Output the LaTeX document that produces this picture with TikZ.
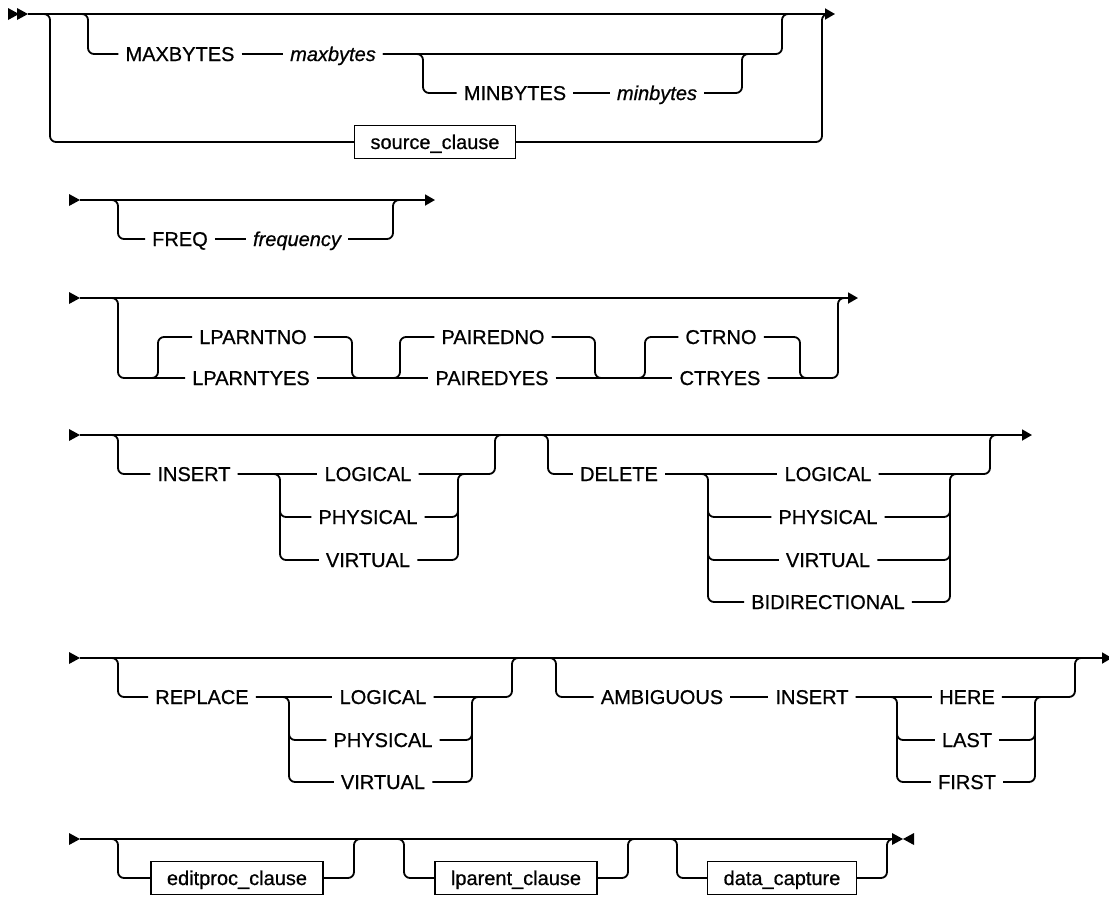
\documentclass[tikz,border=0pt]{standalone}
\usepackage{fontspec}
\setmainfont{Liberation Sans}[FakeBold=0.7, ItalicFeatures={FakeBold=0.7}]
\usetikzlibrary{arrows.meta}

\tikzset{
  rail/.style={line width=1.8pt, rounded corners=6pt},
  railend/.style={line width=1.8pt, -{Triangle[length=10pt,width=11pt]}},
  kw/.style={inner xsep=7pt, inner ysep=0pt, text height=14pt, text depth=0pt,
    font=\fontsize{20}{24}\selectfont},
  var/.style={kw, font=\fontsize{20}{24}\selectfont\itshape},
  clause/.style={kw, draw, line width=1.4pt, inner xsep=16pt, minimum height=33pt},
}
\newcommand{\railtip}[1]{\fill (#1) -- ++(-11,-6) -- ++(0,12) -- cycle;}

\begin{document}
\begin{tikzpicture}[x=1pt,y=-1pt]
\useasboundingbox (0,0) rectangle (1109,897);

% maxbytes / source_clause
\coordinate (a0) at (28,14);
\coordinate (a0b) at (19,14);
\coordinate (a1) at (835,14);
\railtip{a0} \railtip{a0b}
\draw[railend] (a0) -- (a1);

\node[kw]  (maxb) at (180,54) {MAXBYTES};
\node[var] (maxv) at (333,54) {maxbytes};
\node[kw]  (minb) at (515,93) {MINBYTES};
\node[var] (minv) at (657,93) {minbytes};
\node[clause] (src) at (435,142) {source\_clause};

\draw[rail] (a0) -- (50,14) -- (50,142) -- (src.west);
\draw[rail] (src.east) -- (822,142) -- (822,14) -- (830,14);
\draw[rail] (a0) -- (88,14) -- (88,54) -- (maxb.west);
\draw[rail] (maxb.east) -- (maxv.west);
\draw[rail] (maxv.east) -- (782,54) -- (782,14) -- (790,14);
\draw[rail] (maxv.east) -- (423,54) -- (423,93) -- (minb.west);
\draw[rail] (minb.east) -- (minv.west);
\draw[rail] (minv.east) -- (742,93) -- (742,54) -- (750,54);

% freq
\coordinate (b0) at (80,200);
\coordinate (b1) at (435,200);
\railtip{b0}
\draw[railend] (b0) -- (b1);
\node[kw]  (freq)  at (180,239) {FREQ};
\node[var] (freqv) at (297,239) {frequency};
\draw[rail] (b0) -- (118,200) -- (118,239) -- (freq.west);
\draw[rail] (freq.east) -- (freqv.west);
\draw[rail] (freqv.east) -- (393,239) -- (393,200) -- (401,200);

% lparnt / paired / ctr
\coordinate (c0) at (80,298);
\coordinate (c1) at (858,298);
\railtip{c0}
\draw[railend] (c0) -- (c1);
\node[kw] (lpn) at (253,337) {LPARNTNO};
\node[kw] (lpy) at (251,378) {LPARNTYES};
\node[kw] (pdn) at (493,337) {PAIREDNO};
\node[kw] (pdy) at (492,378) {PAIREDYES};
\node[kw] (ctn) at (721,337) {CTRNO};
\node[kw] (cty) at (720,378) {CTRYES};
\draw[rail] (c0) -- (118,298) -- (118,378) -- (lpy.west);
\draw[rail] (148,378) -- (158,378) -- (158,337) -- (lpn.west);
\draw[rail] (lpn.east) -- (352,337) -- (352,378) -- (362,378);
\draw[rail] (lpy.east) -- (pdy.west);
\draw[rail] (390,378) -- (400,378) -- (400,337) -- (pdn.west);
\draw[rail] (pdn.east) -- (595,337) -- (595,378) -- (605,378);
\draw[rail] (pdy.east) -- (cty.west);
\draw[rail] (635,378) -- (645,378) -- (645,337) -- (ctn.west);
\draw[rail] (ctn.east) -- (800,337) -- (800,378) -- (810,378);
\draw[rail] (cty.east) -- (838,378) -- (838,298) -- (846,298);

% insert / delete
\coordinate (d0) at (80,435);
\coordinate (d1) at (1032,435);
\railtip{d0}
\draw[railend] (d0) -- (d1);
\node[kw] (ins)  at (194,474) {INSERT};
\node[kw] (insl) at (368,474) {LOGICAL};
\node[kw] (insp) at (368,517) {PHYSICAL};
\node[kw] (insv) at (368,560) {VIRTUAL};
\draw[rail] (d0) -- (118,435) -- (118,474) -- (ins.west);
\draw[rail] (ins.east) -- (insl.west);
\draw[rail] (ins.east) -- (280,474) -- (280,560) -- (insv.west);
\draw[rail] (280,500) -- (280,517) -- (insp.west);
\draw[rail] (insl.east) -- (495,474) -- (495,435) -- (503,435);
\draw[rail] (insv.east) -- (458,560) -- (458,474) -- (468,474);
\draw[rail] (insp.east) -- (458,517) -- (458,500);

\node[kw] (del)  at (619,474) {DELETE};
\node[kw] (dell) at (828,474) {LOGICAL};
\node[kw] (delp) at (828,517) {PHYSICAL};
\node[kw] (delv) at (828,560) {VIRTUAL};
\node[kw] (delb) at (828,602) {BIDIRECTIONAL};
\draw[rail] (540,435) -- (548,435) -- (548,474) -- (del.west);
\draw[rail] (del.east) -- (dell.west);
\draw[rail] (del.east) -- (708,474) -- (708,602) -- (delb.west);
\draw[rail] (708,500) -- (708,517) -- (delp.west);
\draw[rail] (708,543) -- (708,560) -- (delv.west);
\draw[rail] (dell.east) -- (990,474) -- (990,435) -- (998,435);
\draw[rail] (delb.east) -- (950,602) -- (950,474) -- (960,474);
\draw[rail] (delp.east) -- (950,517) -- (950,500);
\draw[rail] (delv.east) -- (950,560) -- (950,543);

% replace / ambiguous
\coordinate (e0) at (80,658);
\coordinate (e1) at (1112,658);
\railtip{e0}
\draw[railend] (e0) -- (e1);
\node[kw] (rep)  at (202,697) {REPLACE};
\node[kw] (repl) at (383,697) {LOGICAL};
\node[kw] (repp) at (383,740) {PHYSICAL};
\node[kw] (repv) at (383,782) {VIRTUAL};
\draw[rail] (e0) -- (118,658) -- (118,697) -- (rep.west);
\draw[rail] (rep.east) -- (repl.west);
\draw[rail] (rep.east) -- (289,697) -- (289,782) -- (repv.west);
\draw[rail] (289,723) -- (289,740) -- (repp.west);
\draw[rail] (repl.east) -- (512,697) -- (512,658) -- (520,658);
\draw[rail] (repv.east) -- (472,782) -- (472,697) -- (482,697);
\draw[rail] (repp.east) -- (472,740) -- (472,723);

\node[kw] (amb)   at (662,697) {AMBIGUOUS};
\node[kw] (ains)  at (812,697) {INSERT};
\node[kw] (here)  at (967,697) {HERE};
\node[kw] (last)  at (967,740) {LAST};
\node[kw] (first) at (967,782) {FIRST};
\draw[rail] (548,658) -- (556,658) -- (556,697) -- (amb.west);
\draw[rail] (amb.east) -- (ains.west);
\draw[rail] (ains.east) -- (here.west);
\draw[rail] (ains.east) -- (897,697) -- (897,782) -- (first.west);
\draw[rail] (897,723) -- (897,740) -- (last.west);
\draw[rail] (here.east) -- (1075,697) -- (1075,658) -- (1083,658);
\draw[rail] (first.east) -- (1035,782) -- (1035,697) -- (1045,697);
\draw[rail] (last.east) -- (1035,740) -- (1035,723);

% clauses
\coordinate (f0) at (80,839);
\coordinate (f1) at (893,839);
\coordinate (f2) at (903,839);
\railtip{f0}
\draw[rail] (f0) -- (f1);
\railtip{f2}
\fill (f2) -- ++(11,-6) -- ++(0,12) -- cycle;
\node[clause] (edit) at (237,878) {editproc\_clause};
\node[clause] (lpar) at (516,878) {lparent\_clause};
\node[clause] (dcap) at (782,878) {data\_capture};
\draw[rail] (f0) -- (118,839) -- (118,878) -- (edit.west);
\draw[rail] (edit.east) -- (354,878) -- (354,839) -- (362,839);
\draw[rail] (396,839) -- (404,839) -- (404,878) -- (lpar.west);
\draw[rail] (lpar.east) -- (628,878) -- (628,839) -- (636,839);
\draw[rail] (669,839) -- (677,839) -- (677,878) -- (dcap.west);
\draw[rail] (dcap.east) -- (887,878) -- (887,839) -- (893,839);

\end{tikzpicture}
\end{document}
